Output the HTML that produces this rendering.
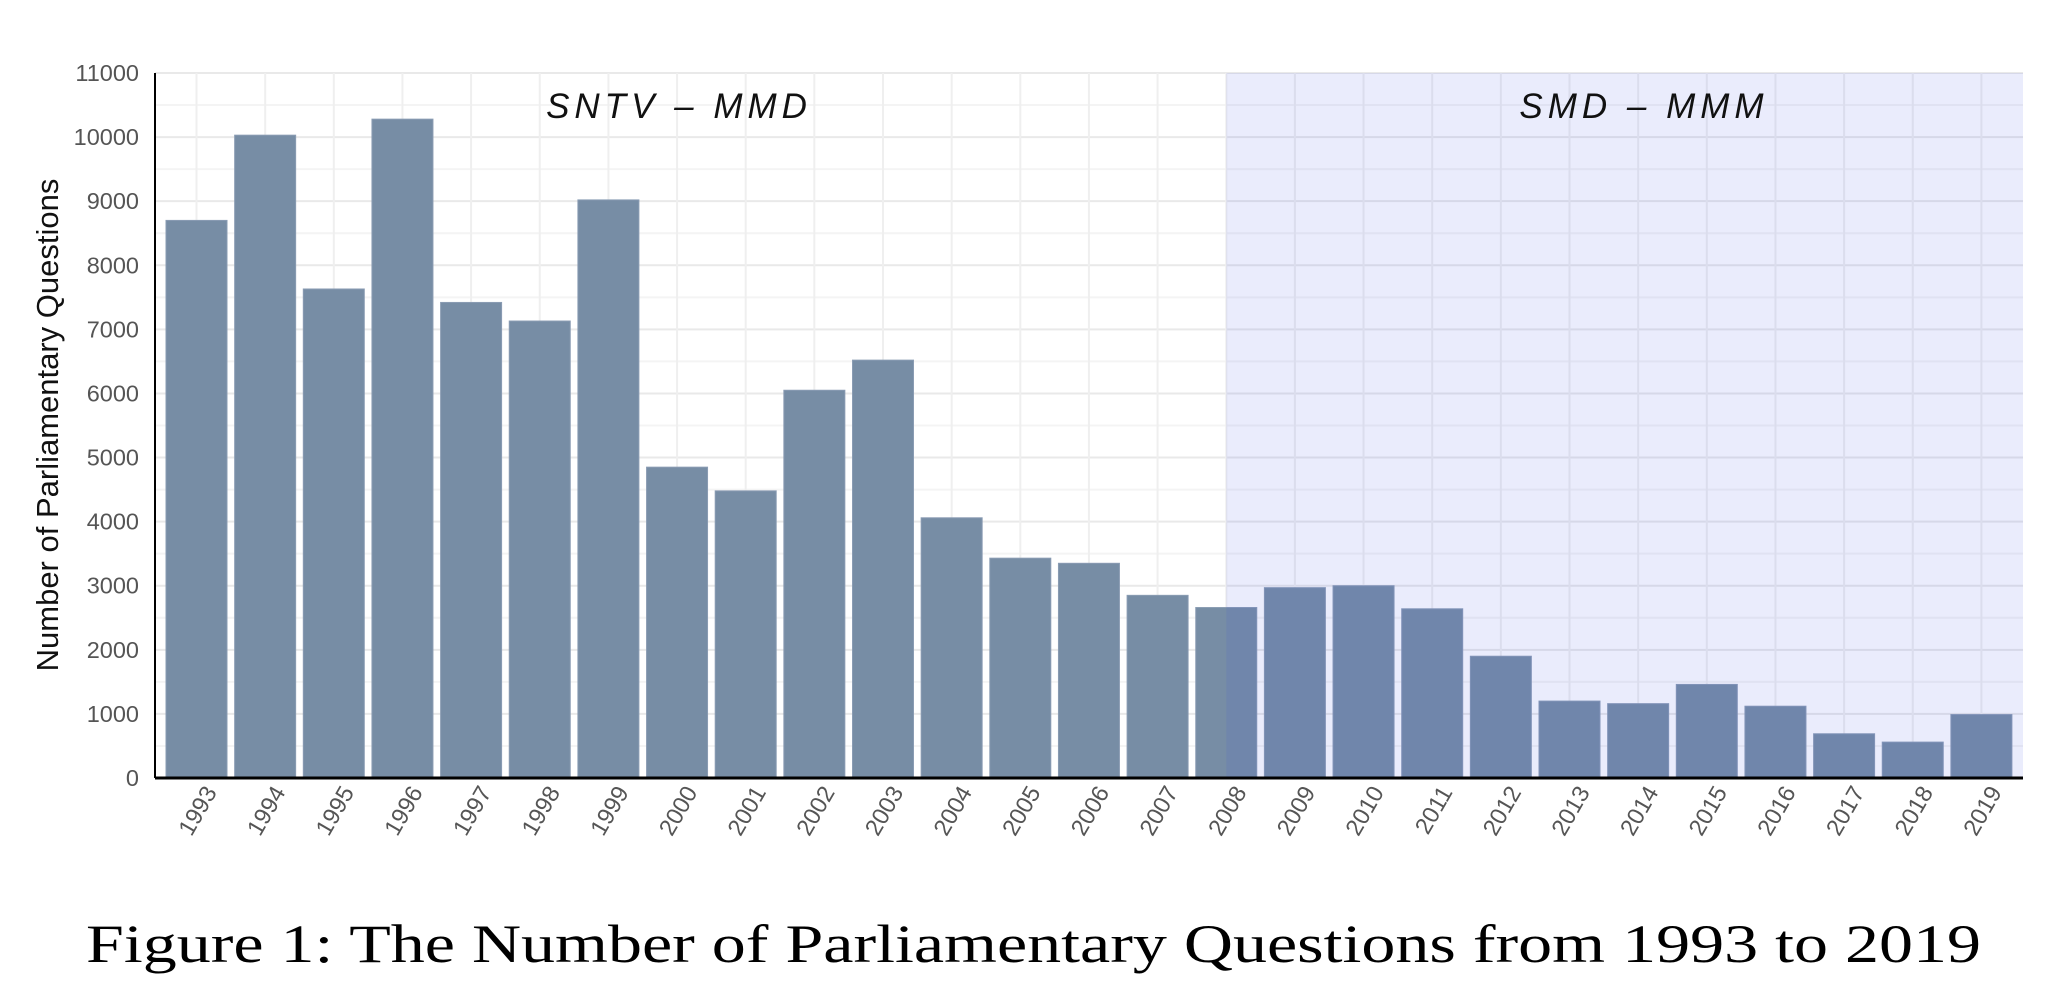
<!DOCTYPE html>
<html><head><meta charset="utf-8"><style>body{margin:0;background:#fff}svg{display:block}</style></head>
<body>
<svg id="chart" width="2064" height="990" viewBox="0 0 2064 990" xmlns="http://www.w3.org/2000/svg" font-family="Liberation Sans, sans-serif"></svg>
<script>
const years = [1993,1994,1995,1996,1997,1998,1999,2000,2001,2002,2003,2004,2005,2006,2007,2008,2009,2010,2011,2012,2013,2014,2015,2016,2017,2018,2019];
const questions = [8700,10030,7630,10280,7420,7130,9020,4850,4480,6050,6520,4060,3430,3350,2850,2660,2970,3000,2640,1900,1200,1160,1460,1120,690,560,990];
const yTicks = [0,1000,2000,3000,4000,5000,6000,7000,8000,9000,10000,11000];
const shadeStartYear = 2008;

const NS = 'http://www.w3.org/2000/svg';
const svg = document.getElementById('chart');
const L = 155, R = 2023, Y0 = 778, Y1 = 73;
const firstC = 196.5, step = 68.65, barW = 61;
const xC = i => firstC + step * i;
const yS = v => Y0 - (v / 11000) * (Y0 - Y1);
function mk(tag, attrs, parent) {
  const e = document.createElementNS(NS, tag);
  for (const k in attrs) e.setAttribute(k, attrs[k]);
  (parent || svg).appendChild(e);
  return e;
}
const grid = mk('g', {});


for (let v = 500; v <= 11000; v += 500) {
  mk('line', {x1: L, x2: R, y1: yS(v), y2: yS(v), stroke: v % 1000 === 0 ? '#e9e9e9' : '#f4f4f4', 'stroke-width': 2}, grid);
}
years.forEach((y, i) => {
  mk('line', {x1: xC(i), x2: xC(i), y1: Y1, y2: Y0, stroke: '#efefef', 'stroke-width': 2}, grid);
});
const bars = mk('g', {});


questions.forEach((v, i) => {
  const r = mk('rect', {x: xC(i) - barW / 2, y: yS(v), width: barW, height: Y0 - yS(v), fill: '#778da5', stroke: '#8a9cb3', 'stroke-width': 1}, bars);
  
  
});
const si = years.indexOf(shadeStartYear);
const sx = xC(si);
const shade = mk('rect', {x: sx, y: Y1, width: R - sx, height: Y0 - Y1, fill: 'rgba(60,80,230,0.11)'});


const ya = mk('line', {x1: L, x2: L, y1: Y1, y2: Y0, stroke: '#000', 'stroke-width': 2});


const xa = mk('line', {x1: L, x2: R, y1: Y0, y2: Y0, stroke: '#000', 'stroke-width': 3});


yTicks.forEach(v => {
  const t = mk('text', {x: 139, y: yS(v) + 8, 'text-anchor': 'end', 'font-size': 23.5, fill: '#555'});
  t.textContent = v;
  
  
});
years.forEach((y, i) => {
  const t = mk('text', {transform: `translate(${xC(i) + 21},792) rotate(-60)`, 'text-anchor': 'end', 'font-size': 23.5, fill: '#555'});
  t.textContent = y;
  
  
});
const yt = mk('text', {transform: 'translate(58,425) rotate(-90)', 'text-anchor': 'middle', 'font-size': 31, fill: '#111'});
yt.textContent = 'Number of Parliamentary Questions';


const a1 = mk('text', {x: 679, y: 118, 'text-anchor': 'middle', 'font-size': 35, 'font-style': 'italic', 'letter-spacing': 5, fill: '#111'});
a1.textContent = 'SNTV – MMD';


const a2 = mk('text', {x: 1644, y: 118, 'text-anchor': 'middle', 'font-size': 35, 'font-style': 'italic', 'letter-spacing': 5, fill: '#111'});
a2.textContent = 'SMD – MMM';


const cap = mk('text', {x: 86, y: 962, 'font-size': 54, 'font-family': 'Liberation Serif, serif', fill: '#000', textLength: 1895, lengthAdjust: 'spacingAndGlyphs'});
cap.textContent = 'Figure 1: The Number of Parliamentary Questions from 1993 to 2019';


</script>
</body></html>
